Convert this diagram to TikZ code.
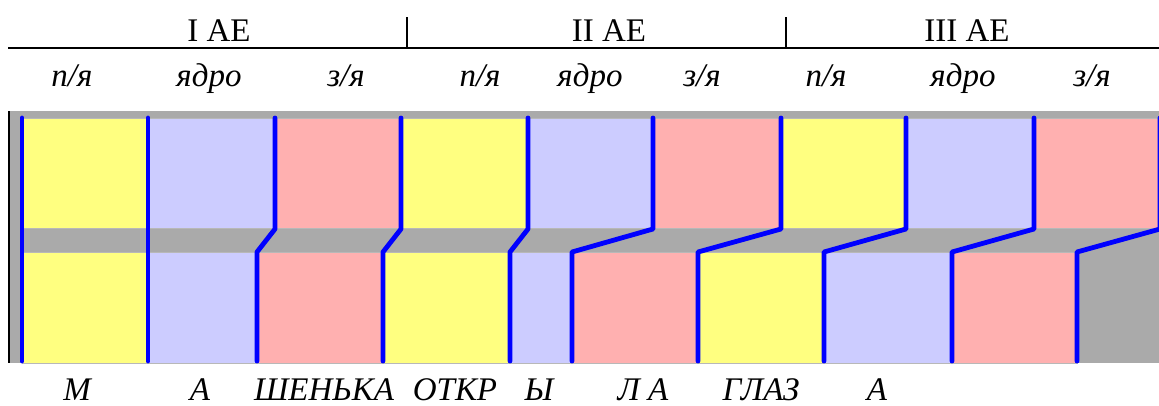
\documentclass[tikz,border=0pt]{standalone}
\usepackage{fontspec}
\setmainfont{Liberation Serif}
\definecolor{cy}{HTML}{FFFF80}
\definecolor{cl}{HTML}{CCCCFF}
\definecolor{cp}{HTML}{FFB0B0}
\definecolor{cg}{HTML}{AAAAAA}
\definecolor{cb}{HTML}{0000FF}
\definecolor{edgegray}{HTML}{B8B8B8}
\begin{document}
\begin{tikzpicture}[x=1pt,y=-1pt,
  hdr/.style={font=\fontsize{33}{36}\selectfont, inner sep=0pt, anchor=base},
  sublab/.style={font=\fontsize{33}{36}\selectfont\itshape, inner sep=0pt, anchor=base},
  blk/.style={draw=edgegray, line width=0.7pt},
  blue line/.style={draw=cb, line width=4.8pt, line join=round, line cap=round}]
\useasboundingbox (0,0) rectangle (1159,405);
% header
\draw[line width=1.8pt] (8,48) -- (1159,48);
\draw[line width=1.8pt] (407,17) -- (407,48);
\draw[line width=1.8pt] (786,17) -- (786,48);
\node[hdr] (h1) at (219,41) {I AE};
\node[hdr] (h2) at (609,41) {II AE};
\node[hdr] (h3) at (967,41) {III AE};
% sub labels
\node[sublab] (s1) at (72,86) {п/я};
\node[sublab] (s2) at (209,86) {ядро};
\node[sublab] (s3) at (346,86) {з/я};
\node[sublab] (s4) at (480,86) {п/я};
\node[sublab] (s5) at (590,86) {ядро};
\node[sublab] (s6) at (702,86) {з/я};
\node[sublab] (s7) at (826,86) {п/я};
\node[sublab] (s8) at (963,86) {ядро};
\node[sublab] (s9) at (1092,86) {з/я};
% background
\fill[cg] (10,111) rectangle (1159,363);
\draw[line width=2pt] (9,111) -- (9,363);
% top row
\foreach \a/\b/\c in {22/148/cy,148/275/cl,275/401/cp,401/528/cy,528/653/cl,653/781/cp,781/906/cy,906/1034/cl,1034/1159/cp}
  \filldraw[blk, fill=\c] (\a,118) rectangle (\b,228);
% bottom row
\foreach \a/\b/\c in {22/148/cy,148/257/cl,257/383/cp,383/510/cy,510/572/cl,572/698/cp,698/824/cy,824/952/cl,952/1077/cp}
  \filldraw[blk, fill=\c] (\a,252) rectangle (\b,363);
% blue boundaries
\foreach \t/\u in {22/22,148/148,275/257,401/383,528/510,653/572,781/698,906/824,1034/952,1160/1077}
  \draw[blue line] (\t,118) -- (\t,229) -- (\u,252) -- (\u,361);
% bottom labels
\node[sublab] (b1) at (77,400) {М};
\node[sublab] (b2) at (200,400) {А};
\node[sublab] (b3) at (324,400) {ШЕНЬКА};
\node[sublab] (b4) at (455,400) {ОТКР};
\node[sublab] (b5) at (539,400) {Ы};
\node[sublab] (b6) at (643,400) {Л А};
\node[sublab] (b7) at (761,400) {ГЛАЗ};
\node[sublab] (b8) at (877,400) {А};
\end{tikzpicture}
\end{document}
